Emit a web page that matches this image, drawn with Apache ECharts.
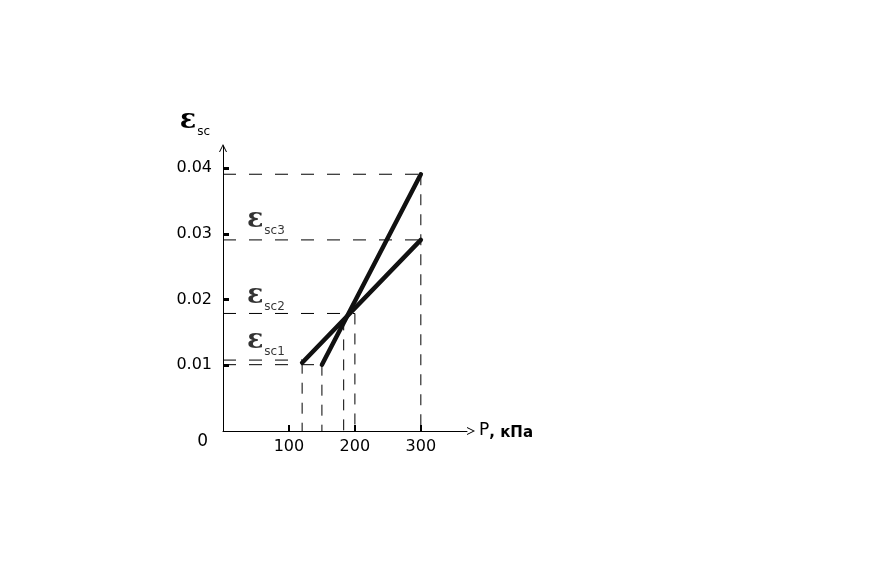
<!DOCTYPE html>
<html><head><meta charset="utf-8">
<script src="https://cdn.jsdelivr.net/npm/echarts@6/dist/echarts.min.js"></script>
<style>html,body{margin:0;padding:0;background:#fff}#c{width:880px;height:568px}</style>
</head><body><div id="c"></div>
<script>
// Data
const xTicks = [100, 200, 300];
const yTicks = [0.01, 0.02, 0.03, 0.04];
const curve1 = [[150, 0.0101], [300, 0.0391]];
const curve2 = [[120, 0.0104], [300, 0.0291]];
const curveNames = ['1', '2'];
// horizontal guides: [level, xEnd]
const hGuides = [[0.0391, 300], [0.0291, 300], [0.0179, 200], [0.0108, 120], [0.0101, 150]];
// vertical guides: [x, yTop]
const vGuides = [[300, 0.0391], [200, 0.0179], [183, 0.0170], [150, 0.0101], [120, 0.0104]];
// annotation labels: [sub, x, y]
const epsLabels = [['sc3', 65, 0.0322], ['sc2', 65, 0.0206], ['sc1', 65, 0.01375]];

const chart = echarts.init(document.getElementById('c'));
const epsRich = {
  e: {fontFamily: 'DejaVu Serif', fontSize: 27, fontWeight: 'bold', color: '#000', verticalAlign: 'bottom'},
  s: {fontFamily: 'DejaVu Sans', fontSize: 12, color: '#000', padding: [0, 0, -4, 1], verticalAlign: 'bottom'}
};
const series = [];
hGuides.forEach(g => series.push({type: 'line', data: [[0, g[0]], [g[1], g[0]]], symbol: 'none', silent: true,
  lineStyle: {color: '#000', width: 1, type: [13, 13]}}));
vGuides.forEach(g => series.push({type: 'line', data: [[g[0], g[1]], [g[0], 0]], symbol: 'none', silent: true,
  lineStyle: {color: '#000', width: 1, type: [11, 9]}}));
[curve1, curve2].forEach((c, i) => series.push({type: 'line', data: c.map((p, j) => ({value: p,
  label: j === c.length - 1 ? {show: true, formatter: curveNames[i], position: 'right', distance: 10, offset: [0, 3],
    fontFamily: 'DejaVu Sans', fontSize: 16, color: '#000'} : {show: false}})),
  symbol: 'none', z: 5, lineStyle: {color: '#111', width: 4.5, cap: 'round'}}));
series.push({type: 'scatter', symbolSize: 0, silent: true,
  data: epsLabels.map(l => ({value: [l[1], l[2]], label: {show: true, position: 'inside',
    formatter: '{e|ε}{s|' + l[0] + '}', rich: epsRich}}))});

chart.setOption({
  animation: false,
  grid: {left: 223, top: 146, width: 244, height: 285, containLabel: false},
  xAxis: {type: 'value', min: 0, max: 370, interval: 100,
    name: '{p|P}{k|, кПа}', nameLocation: 'end', nameGap: 12,
    nameTextStyle: {rich: {p: {fontFamily: 'DejaVu Sans', fontSize: 17, color: '#000'},
      k: {fontFamily: 'DejaVu Sans', fontSize: 15, fontWeight: 'bold', color: '#000', padding: [4, 0, 0, 0]}}},
    axisLine: {lineStyle: {color: '#000', width: 1}, symbol: ['none', 'path://M0,12 L6,0 L12,12 L10.5,12 L6,3 L1.5,12 Z'], symbolSize: [10, 8], symbolOffset: [0, 4]},
    axisTick: {show: true, inside: true, length: 6, lineStyle: {color: '#000', width: 2},
      customValues: xTicks},
    axisLabel: {customValues: xTicks, margin: 8, fontFamily: 'DejaVu Sans', fontSize: 16, color: '#000'},
    splitLine: {show: false}},
  yAxis: {type: 'value', min: 0, max: 0.0434, interval: 0.01,
    name: '{e|ε}{s|sc}', nameLocation: 'end', nameGap: 12,
    nameTextStyle: {align: 'center', padding: [0, 56, 0, 0], rich: epsRich},
    axisLine: {lineStyle: {color: '#000', width: 1}, symbol: ['none', 'path://M0,12 L6,0 L12,12 L10.5,12 L6,3 L1.5,12 Z'], symbolSize: [14, 8], symbolOffset: [0, -2]},
    axisTick: {show: true, inside: true, length: 6, lineStyle: {color: '#000', width: 3}, customValues: yTicks},
    axisLabel: {customValues: [0].concat(yTicks), margin: 11, fontFamily: 'DejaVu Sans', fontSize: 16, color: '#000',
      formatter: v => v === 0 ? '{z|0}' : v.toFixed(2),
      rich: {z: {fontFamily: 'DejaVu Sans', fontSize: 17, color: '#000', padding: [22, 4, 0, 0]}}},
    splitLine: {show: false}},
  series: series
});
</script></body></html>
